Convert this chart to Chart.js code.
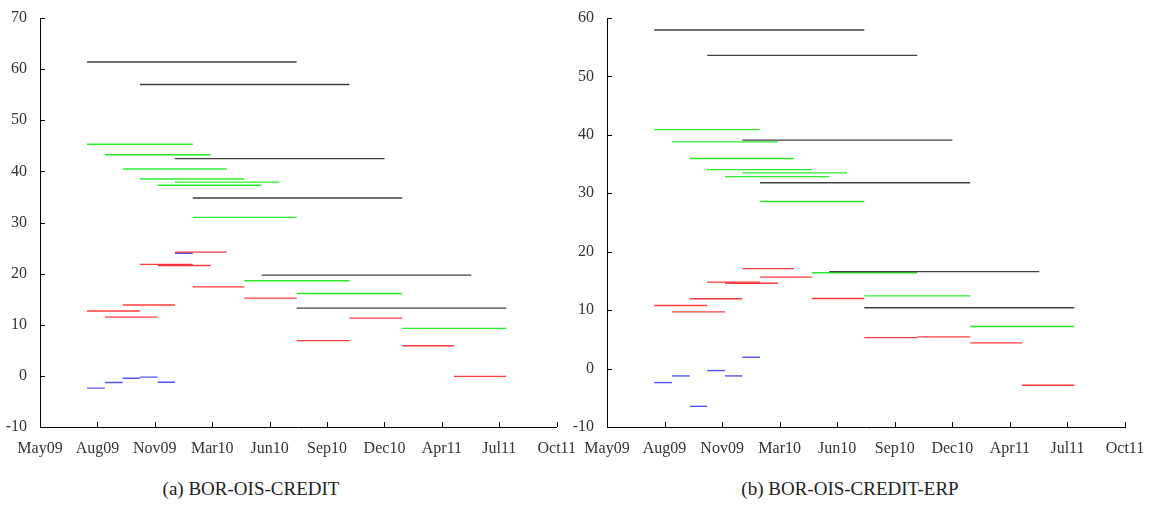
<!DOCTYPE html>
<html>
<head>
<meta charset="utf-8">
<script src="https://cdn.jsdelivr.net/npm/chart.js@4.4.1/dist/chart.umd.min.js"></script>
<style>
body { margin: 0; background: #fff; width: 1153px; height: 514px; position: relative; overflow: hidden; font-family: 'Liberation Serif', serif; }
.panel { position: absolute; top: 0; height: 462px; }
#boxLeft { left: 0; width: 580px; }
#boxRight { left: 560px; width: 593px; }
.cap { position: absolute; top: 478px; font-size: 19px; color: #222; white-space: nowrap; transform: translateX(-50%); }
</style>
</head>
<body>
<div class="panel" id="boxLeft"><canvas id="chartLeft"></canvas></div>
<div class="panel" id="boxRight"><canvas id="chartRight"></canvas></div>
<div class="cap" style="left:251px">(a) BOR-OIS-CREDIT</div>
<div class="cap" style="left:850px">(b) BOR-OIS-CREDIT-ERP</div>
<script>
// x axis: days from 7 May 2009, tick every 100 days
const tickLabels = ['May09', 'Aug09', 'Nov09', 'Mar10', 'Jun10', 'Sep10', 'Dec10', 'Apr11', 'Jul11', 'Oct11']

// segment start, in months after 28 Jul 2009, and length in months
const blueStarts = [0, 1, 2, 3, 4, 5]
const redStarts = [0, 1, 2, 3, 4, 5, 6, 9, 12, 15, 18, 21]
const greenStarts = [0, 1, 2, 3, 4, 5, 6, 9, 12, 18]
const blackStarts = [0, 3, 5, 6, 10, 12]
const blueLen = 1
const redLen = 3
const greenLen = 6
const blackLen = 12

// (a) BOR-OIS-CREDIT
const creditBlue = [-2.4, -1.3, -0.45, -0.25, -1.25, 24.0]
const creditRed = [12.7, 11.5, 13.85, 21.8, 21.6, 24.2, 17.4, 15.2, 6.9, 11.3, 5.9, -0.1]
const creditGreen = [45.3, 43.25, 40.45, 38.5, 37.3, 37.9, 31.0, 18.6, 16.1, 9.3]
const creditBlack = [61.4, 57.0, 42.5, 34.8, 19.7, 13.25]

// (b) BOR-OIS-CREDIT-ERP
const erpBlue = [-2.4, -1.26, -6.46, -0.34, -1.26, 1.94]
const erpRed = [10.8, 9.7, 11.95, 14.8, 14.6, 17.1, 15.65, 12.0, 5.3, 5.43, 4.4, -2.86]
const erpGreen = [40.9, 38.8, 35.95, 34.05, 32.85, 33.5, 28.6, 16.4, 12.45, 7.2]
const erpBlack = [57.95, 53.6, 39.1, 31.8, 16.6, 10.4]

const origin = new Date(2009, 4, 7)

function dayOf(monthsAfter) {
    const d = new Date(2009, 6 + monthsAfter, 28)
    return Math.round((d - origin) / 86400000)
}

function segments(starts, len, values, colour) {
    return starts.map((k, i) => ({
        data: [{ x: dayOf(k), y: values[i] }, { x: dayOf(k + len), y: values[i] }],
        borderColor: colour,
        borderWidth: 1.4,
        pointRadius: 0,
        fill: false
    }))
}

const inwardTicks = {
    id: 'inwardTicks',
    afterDraw(chart) {
        const { ctx, chartArea } = chart
        const x = chart.scales.x
        const y = chart.scales.y
        ctx.save()
        ctx.strokeStyle = '#000'
        ctx.lineWidth = 1
        ctx.beginPath()
        x.ticks.forEach(t => {
            const px = Math.round(x.getPixelForValue(t.value)) + 0.5
            ctx.moveTo(px, chartArea.bottom)
            ctx.lineTo(px, chartArea.bottom - 5)
        })
        y.ticks.forEach(t => {
            const py = Math.round(y.getPixelForValue(t.value)) + 0.5
            ctx.moveTo(chartArea.left, py)
            ctx.lineTo(chartArea.left + 5, py)
        })
        ctx.stroke()
        ctx.restore()
    }
}

function makeChart(id, blue, red, green, black, yMax, yWidth, padRight) {
    const font = { family: "'Liberation Serif', serif", size: 16 }
    return new Chart(document.getElementById(id), {
        type: 'line',
        data: {
            datasets: [
                ...segments(blackStarts, blackLen, black, 'rgba(30,30,30,0.85)'),
                ...segments(greenStarts, greenLen, green, 'rgba(20,235,20,0.9)'),
                ...segments(redStarts, redLen, red, 'rgba(255,25,25,0.85)'),
                ...segments(blueStarts, blueLen, blue, 'rgba(40,40,255,0.8)')
            ]
        },
        options: {
            responsive: true,
            maintainAspectRatio: false,
            animation: false,
            layout: { padding: { top: 18, right: padRight, left: 0, bottom: 0 } },
            plugins: { legend: { display: false }, tooltip: { enabled: false } },
            scales: {
                x: {
                    type: 'linear',
                    min: 0,
                    max: 900,
                    afterBuildTicks: s => { s.ticks = tickLabels.map((_, i) => ({ value: i * 100 })) },
                    afterFit: s => { s.height = 35 },
                    grid: { display: false },
                    border: { display: true, color: '#000', width: 1 },
                    ticks: {
                        autoSkip: false,
                        maxRotation: 0,
                        padding: 4,
                        color: '#333',
                        font: font,
                        callback: (v, i) => tickLabels[i]
                    }
                },
                y: {
                    min: -10,
                    max: yMax,
                    afterFit: s => { s.width = yWidth },
                    grid: { display: false },
                    border: { display: true, color: '#000', width: 1 },
                    ticks: { stepSize: 10, padding: 5, color: '#333', font: font }
                }
            }
        },
        plugins: [inwardTicks]
    })
}

makeChart('chartLeft', creditBlue, creditRed, creditGreen, creditBlack, 70, 40, 22)
makeChart('chartRight', erpBlue, erpRed, erpGreen, erpBlack, 60, 47, 28)
</script>
</body>
</html>
